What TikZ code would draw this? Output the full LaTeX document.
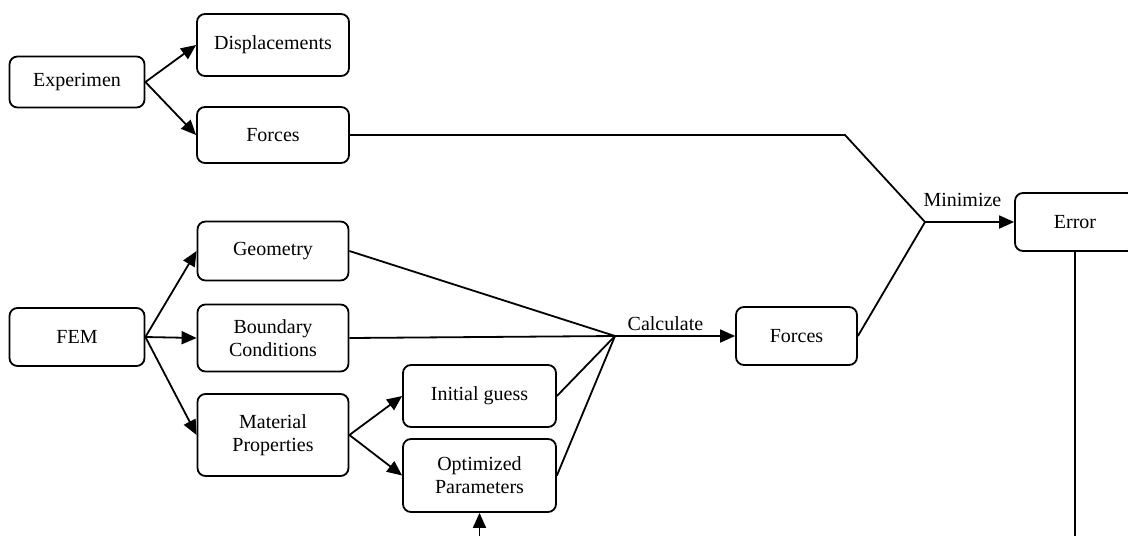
\documentclass[tikz,border=0pt]{standalone}
\usepackage{fontspec}
\setmainfont{Liberation Serif}
\usepackage{tikz}
\usetikzlibrary{shapes,arrows,arrows.meta,positioning,calc}

\tikzset{
  block/.style={draw, line width=0.9pt, rounded corners=4pt, align=center, inner sep=2pt, font=\fontsize{10}{11.5}\selectfont},
  link/.style={line width=0.9pt, -{Triangle[length=7.5pt,width=6.5pt]}},
  wire/.style={line width=0.9pt, line join=miter},
  tag/.style={font=\fontsize{10}{11.5}\selectfont, inner sep=2pt}
}

\begin{document}
\begin{tikzpicture}[x=0.5pt, y=-0.5pt]
\useasboundingbox (0,0) rectangle (1128,536);

% experiment side
\node[block, minimum width=67.5pt, minimum height=25.5pt] (exper) at (77,82) {Experimen};
\node[block, minimum width=76pt, minimum height=31pt] (disp) at (273,45) {Displacements};
\node[block, minimum width=76pt, minimum height=28pt] (forcesexp) at (273,135) {Forces};

% FEM side
\node[block, minimum width=67.5pt, minimum height=29pt] (fem) at (77,337) {FEM};
\node[block, minimum width=75.5pt, minimum height=29.5pt] (geom) at (273,251) {Geometry};
\node[block, minimum width=75.5pt, minimum height=33.5pt] (bc) at (273,338) {Boundary\\Conditions};
\node[block, minimum width=75.5pt, minimum height=41pt] (matprop) at (273,435) {Material\\Properties};
\node[block, minimum width=76.5pt, minimum height=31pt] (initguess) at (479.5,396) {Initial guess};
\node[block, minimum width=76.5pt, minimum height=36.5pt] (optparam) at (479.5,475.5) {Optimized\\Parameters};
\node[block, minimum width=60.5pt, minimum height=29pt] (forcesfem) at (796.5,336) {Forces};
\node[block, minimum width=60pt, minimum height=29pt] (err) at (1075,222) {Error};

% junctions and free ends
\coordinate (calcpt) at (615,336);
\coordinate (bendpt) at (845,135);
\coordinate (minpt) at (925,222);
\coordinate (feedin) at (479.5,536);
\coordinate (errout) at (1075,536);

\draw[link] (exper.east) -- (disp.west);
\draw[link] (exper.east) -- (forcesexp.west);
\draw[link] (fem.east) -- (geom.west);
\draw[link] (fem.east) -- (bc.west);
\draw[link] (fem.east) -- (matprop.west);
\draw[link] (matprop.east) -- (initguess.west);
\draw[link] (matprop.east) -- (optparam.west);

\draw[wire] (geom.east) -- (calcpt);
\draw[wire] (bc.east) -- (calcpt);
\draw[wire] (initguess.east) -- (calcpt);
\draw[wire] (optparam.east) -- (calcpt);
\draw[link] (calcpt) -- node[tag, pos=0.42, above] {Calculate} (forcesfem.west);

\draw[wire] (forcesexp.east) -- (bendpt) -- (minpt);
\draw[wire] (forcesfem.east) -- (minpt);
\draw[link] (minpt) -- node[tag, pos=0.42, above=5pt] {Minimize} (err.west);

\draw[wire] (err.south) -- (errout);
\draw[link] (feedin) -- (optparam.south);
\end{tikzpicture}
\end{document}
